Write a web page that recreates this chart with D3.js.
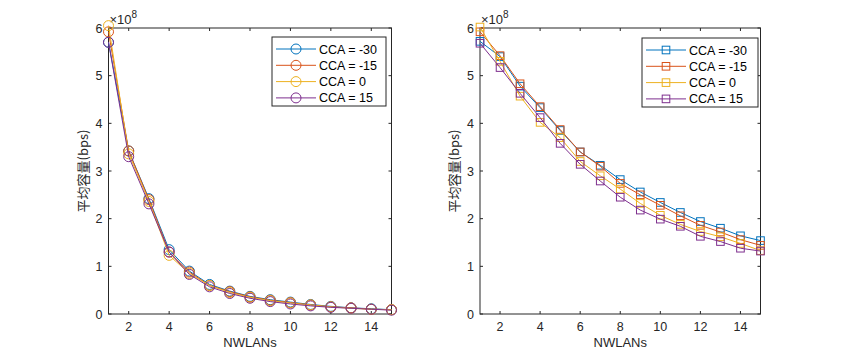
<!DOCTYPE html>
<html>
<head>
<meta charset="utf-8">
<script src="https://cdn.jsdelivr.net/npm/d3@7"></script>
<style>
  body { margin: 0; background: #fff; }
  svg { display: block; font-family: "Liberation Sans", Arial, sans-serif; }
</style>
</head>
<body>
<div id="chart"></div>
<script>
// NWLANs 1..15
const nwlans = d3.range(1, 16)
const seriesNames = ["CCA = -30", "CCA = -15", "CCA = 0", "CCA = 15"]
const colors = ["#0072BD", "#D95319", "#EDB120", "#7E2F8E"]

// left panel (circles), units of 1e8 bps
const leftM30 = [5.70, 3.42, 2.42, 1.35, 0.90, 0.62, 0.48, 0.37, 0.30, 0.25, 0.20, 0.16, 0.13, 0.11, 0.09]
const leftM15 = [5.92, 3.42, 2.40, 1.30, 0.88, 0.60, 0.47, 0.36, 0.29, 0.24, 0.19, 0.15, 0.13, 0.10, 0.09]
const left0   = [6.05, 3.36, 2.36, 1.23, 0.85, 0.60, 0.45, 0.35, 0.28, 0.23, 0.19, 0.15, 0.12, 0.10, 0.09]
const left15  = [5.70, 3.30, 2.31, 1.30, 0.83, 0.57, 0.43, 0.33, 0.26, 0.21, 0.17, 0.14, 0.12, 0.10, 0.08]

// right panel (squares)
const rightM30 = [5.72, 5.40, 4.78, 4.33, 3.85, 3.40, 3.12, 2.82, 2.56, 2.34, 2.13, 1.94, 1.80, 1.64, 1.54]
const rightM15 = [5.92, 5.42, 4.83, 4.35, 3.87, 3.40, 3.10, 2.74, 2.50, 2.28, 2.06, 1.86, 1.72, 1.56, 1.44]
const right0   = [6.02, 5.30, 4.57, 4.02, 3.70, 3.20, 2.90, 2.62, 2.32, 2.07, 1.88, 1.73, 1.62, 1.48, 1.33]
const right15  = [5.68, 5.17, 4.63, 4.12, 3.58, 3.14, 2.79, 2.45, 2.18, 1.99, 1.84, 1.63, 1.52, 1.38, 1.32]

const xTicks = [2, 4, 6, 8, 10, 12, 14]
const yTicks = [0, 1, 2, 3, 4, 5, 6]
const xLabel = "NWLANs"
const yLabel = "平均容量(bps)"

const width = 841, height = 358
const axColor = "#262626"

const svg = d3.select("#chart").append("svg")
    .attr("width", width).attr("height", height)

function drawPanel(left, right, series, marker, legendBox){
    const top = 28, bottom = 314
    const x = d3.scaleLinear().domain([1, 15]).range([left, right])
    const y = d3.scaleLinear().domain([0, 6]).range([bottom, top])
    const g = svg.append("g")

    // box + ticks
    g.append("rect")
        .attr("x", left).attr("y", top)
        .attr("width", right - left).attr("height", bottom - top)
        .attr("fill", "#fff").attr("stroke", axColor).attr("stroke-width", 1)

    const tl = 3
    xTicks.forEach(t => {
        g.append("line").attr("x1", x(t)).attr("x2", x(t)).attr("y1", bottom).attr("y2", bottom - tl).attr("stroke", axColor)
        g.append("line").attr("x1", x(t)).attr("x2", x(t)).attr("y1", top).attr("y2", top + tl).attr("stroke", axColor)
        g.append("text").attr("x", x(t)).attr("y", bottom + 17)
            .attr("text-anchor", "middle").attr("font-size", 12.5).attr("fill", axColor).text(t)
    })
    yTicks.forEach(t => {
        g.append("line").attr("x1", left).attr("x2", left + tl).attr("y1", y(t)).attr("y2", y(t)).attr("stroke", axColor)
        g.append("line").attr("x1", right).attr("x2", right - tl).attr("y1", y(t)).attr("y2", y(t)).attr("stroke", axColor)
        g.append("text").attr("x", left - 6).attr("y", y(t) + 4.5)
            .attr("text-anchor", "end").attr("font-size", 12.5).attr("fill", axColor).text(t)
    })

    // exponent
    const ex = g.append("text").attr("x", left + 1).attr("y", top - 4)
        .attr("font-size", 13).attr("fill", axColor)
    ex.append("tspan").text("×10")
    ex.append("tspan").attr("dy", -6).attr("font-size", 10).text("8")

    g.append("text").attr("x", (left + right) / 2).attr("y", bottom + 33)
        .attr("text-anchor", "middle").attr("font-size", 13).attr("fill", axColor).text(xLabel)
    g.append("text")
        .attr("transform", `translate(${left - 21},${(top + bottom) / 2}) rotate(-90)`)
        .attr("text-anchor", "middle").attr("font-size", 13).attr("fill", axColor)
        .attr("font-family", "'Noto Sans CJK SC', 'Liberation Sans', sans-serif")
        .text(yLabel)

    const line = d3.line().x((d, i) => x(nwlans[i])).y(d => y(d))

    function drawMarker(sel, cx, cy, color){
        if (marker === "circle"){
            sel.append("circle").attr("cx", cx).attr("cy", cy).attr("r", 5)
                .attr("fill", "none").attr("stroke", color).attr("stroke-width", 1)
        } else {
            sel.append("rect").attr("x", cx - 3.8).attr("y", cy - 3.8).attr("width", 7.6).attr("height", 7.6)
                .attr("fill", "none").attr("stroke", color).attr("stroke-width", 1)
        }
    }

    series.forEach((vals, k) => {
        const sg = g.append("g")
        sg.append("path").datum(vals).attr("d", line)
            .attr("fill", "none").attr("stroke", colors[k]).attr("stroke-width", 1)
        vals.forEach((v, i) => drawMarker(sg, x(nwlans[i]), y(v), colors[k]))
    })

    // legend
    const lb = legendBox
    g.append("rect").attr("x", lb.x).attr("y", lb.y).attr("width", lb.w).attr("height", lb.h)
        .attr("fill", "#fff").attr("stroke", axColor).attr("stroke-width", 1)
    seriesNames.forEach((name, k) => {
        const ry = lb.y + 12 + k * 16.3
        g.append("line").attr("x1", lb.x + 4).attr("x2", lb.x + 44).attr("y1", ry).attr("y2", ry)
            .attr("stroke", colors[k])
        drawMarker(g, lb.x + 24, ry, colors[k])
        g.append("text").attr("x", lb.x + 47).attr("y", ry + 4.5)
            .attr("font-size", 12.5).attr("fill", "#000").text(name)
    })
}

drawPanel(108.5, 391.5, [leftM30, leftM15, left0, left15], "circle", {x: 272, y: 37, w: 114, h: 69})
drawPanel(480, 760.5, [rightM30, rightM15, right0, right15], "square", {x: 642, y: 38, w: 116, h: 69})
</script>
</body>
</html>
